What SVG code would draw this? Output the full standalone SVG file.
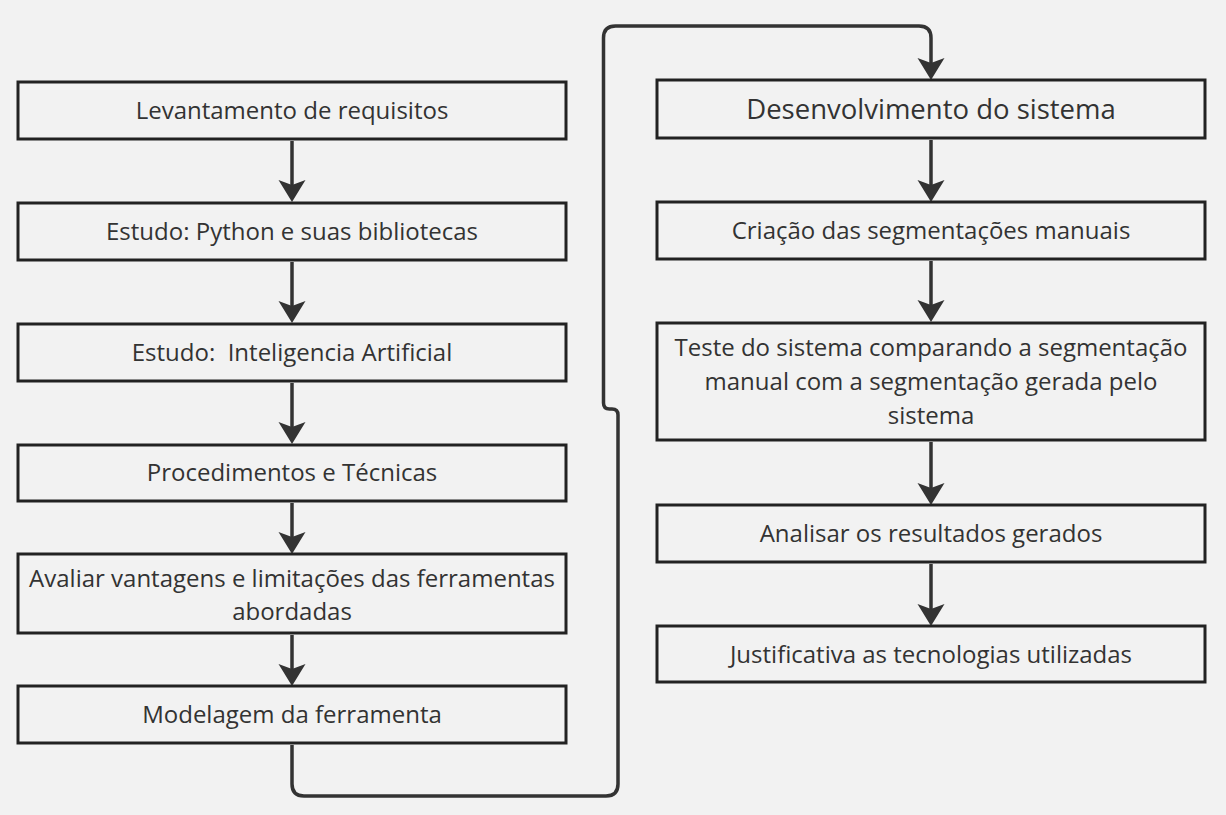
<svg xmlns="http://www.w3.org/2000/svg" width="1226" height="815" viewBox="0 0 1226 815">
<defs>
<style>
.box{fill:#f2f2f2;stroke:#222;stroke-width:3}
.t{font-family:"Open Sans","Noto Sans","Liberation Sans",sans-serif;font-size:24px;fill:#333;text-anchor:middle}
.big{font-size:27.5px}
.c{fill:none;stroke:#333;stroke-width:3.5;marker-end:url(#ah)}
</style>
<marker id="ah" markerUnits="userSpaceOnUse" viewBox="-1 -15 25 30" refX="14" refY="0" markerWidth="25" markerHeight="30" orient="auto" overflow="visible">
<path d="M0,-13.5 L22,0 L0,13.5 L5,0 Z" fill="#333"/>
</marker>
</defs>
<rect width="1226" height="815" fill="#f2f2f2"/>
<g id="connectors">
<path class="c" d="M292,141 V194"/>
<path class="c" d="M292,262 V315"/>
<path class="c" d="M292,383 V436"/>
<path class="c" d="M292,503 V546"/>
<path class="c" d="M292,635 V678"/>
<path class="c" d="M931,140 V194"/>
<path class="c" d="M931,261 V314"/>
<path class="c" d="M931,442 V497"/>
<path class="c" d="M931,564 V618"/>
<path class="c" d="M292,745 V784 Q292,796 304,796 H606 Q618,796 618,784 V415 Q618,409 612,409 H609.5 Q603.5,409 603.5,403 V38 Q603.5,26 615.5,26 H919 Q931,26 931,38 V72"/>
</g>
<g id="n1"><rect class="box" x="18" y="82" width="548" height="57"/><text class="t" x="292" y="119">Levantamento de requisitos</text></g>
<g id="n2"><rect class="box" x="18" y="203" width="548" height="57"/><text class="t" x="292" y="240">Estudo: Python e suas bibliotecas</text></g>
<g id="n3"><rect class="box" x="18" y="324" width="548" height="57"/><text class="t" x="292" y="361" xml:space="preserve">Estudo:  Inteligencia Artificial</text></g>
<g id="n4"><rect class="box" x="18" y="445" width="548" height="56"/><text class="t" x="292" y="481">Procedimentos e Técnicas</text></g>
<g id="n5"><rect class="box" x="18" y="554" width="548" height="79"/><text class="t" x="292" y="586.5">Avaliar vantagens e limitações das ferramentas</text><text class="t" x="292" y="620">abordadas</text></g>
<g id="n6"><rect class="box" x="18" y="686" width="548" height="57"/><text class="t" x="292" y="723">Modelagem da ferramenta</text></g>
<g id="n7"><rect class="box" x="657" y="80" width="548" height="58"/><text class="t big" x="931" y="119">Desenvolvimento do sistema</text></g>
<g id="n8"><rect class="box" x="657" y="202" width="548" height="57"/><text class="t" x="931" y="239">Criação das segmentações manuais</text></g>
<g id="n9"><rect class="box" x="657" y="323" width="548" height="117"/><text class="t" x="931" y="356">Teste do sistema comparando a segmentação</text><text class="t" x="931" y="390">manual com a segmentação gerada pelo</text><text class="t" x="931" y="423.5">sistema</text></g>
<g id="n10"><rect class="box" x="657" y="505" width="548" height="57"/><text class="t" x="931" y="542">Analisar os resultados gerados</text></g>
<g id="n11"><rect class="box" x="657" y="626" width="548" height="56"/><text class="t" x="931" y="663">Justificativa as tecnologias utilizadas</text></g>
</svg>
